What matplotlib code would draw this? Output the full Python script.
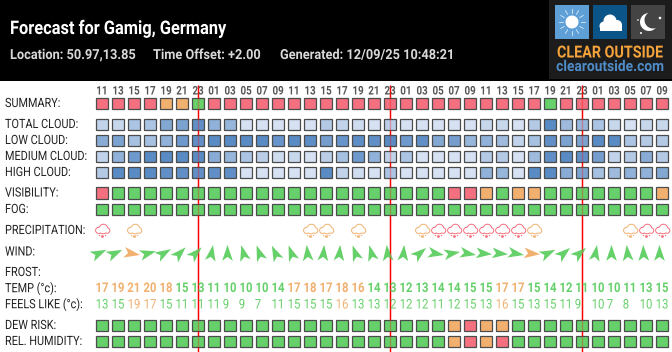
import numpy as np
import matplotlib
matplotlib.use("Agg")
import matplotlib.pyplot as plt
from matplotlib.patches import Rectangle, Polygon
from matplotlib.path import Path
from matplotlib.markers import MarkerStyle
from matplotlib.transforms import Affine2D
from matplotlib.patheffects import AbstractPathEffect

hours = ["11","13","15","17","19","21","23","01","03","05","07","09",
         "11","13","15","17","19","21","23","01","03","05","07","09",
         "11","13","15","17","19","21","23","01","03","05","07","09"]

# 0 good (green), 1 fair (orange), 2 poor (red)
summary = [2,2,2,2,1,1,0,2,2, 2,2,2,2,2,2,2,2,2,2, 2,2,2,2,2,2,2,2,2,0,2,2, 2,2,2,2,2]
visibility = [2,0,0,0,0,0,0,0,0, 0,0,0,0,0,0,0,0,0,0, 0,0,0,2,2,1,0,1,1,0,0,0, 0,0,0,0,1]
fog = [0]*36
dew_risk = [0]*22 + [1,2,1,1] + [0]*10
humidity = [0]*22 + [1,2,1,2] + [0]*10

total_cloud = [20,15,35,35,65,70,90,55,50, 5,5,5,5,5,30,20,10,5,25, 5,5,5,5,5,15,15,5,30,95,45,50, 35,15,5,15,15]
low_cloud = [60,70,40,40,55,80,90,95,95, 95,95,85,95,92,75,85,92,90,95, 80,90,65,75,50,55,45,20,40,90,70,70, 95,95,35,30,30]
medium_cloud = [20,55,80,95,95,95,95,60,50, 35,25,10,15,5,25,40,80,55,20, 35,5,5,5,5,30,30,5,45,90,95,90, 75,20,30,60,30]
high_cloud = [30,95,95,95,90,90,90,90,90, 5,5,5,5,5,95,20,10,5,35, 5,5,5,5,5,55,50,5,95,95,60,70, 40,45,55,55,65]

precip_poor = [0,21,22,23,24,25,26,34,35]
precip_fair = [2,13,14,16,20,27,33]

wind_heading = [65,65,100,75,60,45,45,10,0,-15,-20,-25,
                -20,-5,5,5,-20,-15,-5,5,50,100,80,100,
                95,95,100,95,65,50,50,10,0,-5,-2,0]
wind_fair = [2,27]

temp = [17,19,21,20,18,15,13,11,10, 10,10,14,17,18,17,18,16,14,13,
        12,13,14,14,15,15,17,17,15,14,12,11, 10,10,11,13,15]
feels = [13,15,19,17,15,11,11,11,9, 9,7,11,15,15,15,16,13,13,12,
         12,12,11,12,15,13,16,15,13,15,11,9, 10,7,8,10,13]

labels = {"SUMMARY:":103.5,"TOTAL CLOUD:":124.5,"LOW CLOUD:":140.5,"MEDIUM CLOUD:":156.5,
          "HIGH CLOUD:":172.5,"VISIBILITY:":193,"FOG:":209.5,"PRECIPITATION:":230.5,
          "WIND:":252,"FROST:":272.5,"TEMP (°c):":288.5,"FEELS LIKE (°c):":304.5,
          "DEW RISK:":325.5,"REL. HUMIDITY:":341.5}

GREEN, ORANGE, RED = "#66d06a", "#f2b06f", "#f4707f"
STATE = [GREEN, ORANGE, RED]
EDGE = "#4c4c4c"
LIGHT = np.array([0xdc,0xe6,0xf4])/255
DARK = np.array([0x52,0x86,0xc2])/255
FONT = ["Roboto", "DejaVu Sans"]


class Condense(AbstractPathEffect):
    """Draw a text narrower, since no condensed family is installed."""
    def __init__(self, sx, center=False):
        super().__init__()
        self.sx, self.center = sx, center
    def draw_path(self, renderer, gc, tpath, affine, rgbFace=None):
        ext = tpath.get_extents()
        cx = (ext.x0+ext.x1)/2 if self.center else 0
        local = Affine2D().translate(-cx,0).scale(self.sx,1).translate(cx,0)
        renderer.draw_path(gc, tpath, local+affine, rgbFace)


fig = plt.figure(figsize=(6.72,3.52), dpi=100, facecolor="white")
# x axis is the forecast column index; y axis is figure pixels from the top
ax = fig.add_axes([0,0,1,1])
DX = 16
ax.set_xlim(-102/DX, (672-102)/DX)
ax.set_ylim(352,0)
ax.axis("off")
xscale = 1/DX
n = len(hours)
xs = np.arange(n)

def px(v):
    return (v-102)*xscale

def txt(x,y,s,sx,center=False,**kw):
    return ax.text(x,y,s,family=FONT,va="center",ha="center" if center else "left",zorder=6,
                   path_effects=[Condense(sx,center)],**kw)

# header band
ax.add_patch(Rectangle((ax.get_xlim()[0],0),672*xscale,81,fc="black",ec="none",zorder=1))
txt(px(10),29,"Forecast for Gamig, Germany",0.875,color="white",fontsize=13.5,fontweight="bold")
for tx,s in [(10,"Location: 50.97,13.85"),(153,"Time Offset: +2.00"),(280,"Generated: 12/09/25 10:48:21")]:
    txt(px(tx),55,s,0.92,color="#d8d8d8",fontsize=10,fontweight="bold")

# logo
ax.add_patch(Rectangle((px(549),0),123*xscale,79,fc="#1c1c1c",ec="none",zorder=2))
for bx,c in [(555,"#5f9fd8"),(593,"#0a5488"),(631,"#444444")]:
    ax.add_patch(Rectangle((px(bx),5),34*xscale,34,fc=c,ec="none",zorder=3))
def blob(cx,cy,r,c,z=4):
    t=np.linspace(0,2*np.pi,40)
    ax.add_patch(Polygon(np.c_[px(cx+r*np.cos(t)),cy+r*np.sin(t)],fc=c,ec="none",zorder=z))
blob(572,22,6.5,"white")
for a in np.arange(0,360,30):
    ca,sa=np.cos(np.radians(a)),np.sin(np.radians(a))
    ax.plot([px(572+9*ca),px(572+13*ca)],[22+9*sa,22+13*sa],color="white",lw=0.6,alpha=0.8,zorder=4)
for cx,cy,r in [(604,26,4.5),(610,21,6.5),(617,25,5)]:
    blob(cx,cy,r,"white")
ax.add_patch(Rectangle((px(600),25),22*xscale,5.5,fc="white",ec="none",zorder=4))
blob(649,22,9,"white")
blob(653,20,8.5,"#444444",5)
for cx,cy,r in [(660,18,1.3),(641,33,1),(638,20,0.8)]:
    blob(cx,cy,r,"white",6)
txt(px(610),53,"CLEAR OUTSIDE",0.86,center=True,color="#f5a33b",fontsize=12,fontweight="bold")
txt(px(610),67,"clearoutside.com",0.92,center=True,color="#4f8bc6",fontsize=10.8,fontweight="bold")

# day separators: full red behind the squares, faint tint over them
days = [i for i,h in enumerate(hours) if h=="23"]
for k in days:
    ax.plot([k,k],[85,352],color="#ff0000",lw=1.0,zorder=2,solid_capstyle="butt")
    ax.plot([k,k],[85,352],color="#ff0000",lw=1.0,alpha=0.3,zorder=5,solid_capstyle="butt")

# hour labels
for k,h in zip(xs,hours):
    txt(k,91,h,0.82,center=True,color="#555555",fontsize=8.6,fontweight="bold")

# row labels
for s,y in labels.items():
    txt(px(5),y,s,0.85,color="#222222",fontsize=9.2)

def squares(y,colors):
    for k,c in zip(xs,colors):
        ax.add_patch(Rectangle((k-5.9*xscale,y-5.9),11.8*xscale,11.8,fc=c,ec=EDGE,lw=0.9,zorder=3))

def cloud_color(v):
    return tuple(LIGHT+(DARK-LIGHT)*v/100)

squares(103.5,[STATE[v] for v in summary])
for y,row in [(124.5,total_cloud),(140.5,low_cloud),(156.5,medium_cloud),(172.5,high_cloud)]:
    squares(y,[cloud_color(v) for v in row])
squares(193,[STATE[v] for v in visibility])
squares(209.5,[STATE[v] for v in fog])
squares(325.5,[STATE[v] for v in dew_risk])
squares(341.5,[STATE[v] for v in humidity])

# precipitation icon: cloud outline as a custom marker
def cloud_path():
    circles=[(-3.8,0.9,3.0),(0.9,-1.0,4.2),(4.4,1.0,2.8),(0.4,0.2,4.0)]
    ang=np.radians(np.arange(0,360,6))
    pts=[]
    for a in ang:
        d=np.array([np.cos(a),np.sin(a)])
        best=0
        for cx,cy,r in circles:
            b=cx*d[0]+cy*d[1]
            c=cx*cx+cy*cy-r*r
            disc=b*b-c
            if disc>=0:
                best=max(best,b+np.sqrt(disc))
        pts.append(d*best)
    pts=np.array(pts)
    pts[:,1]*=-1
    return Path(np.vstack([pts,pts[:1]]),closed=True)
CLOUD=cloud_path()
for idx,c in [(precip_poor,RED),(precip_fair,ORANGE)]:
    idx=np.array(idx)
    ax.plot(idx,np.full(idx.size,228.5),ls="none",marker=CLOUD,ms=10.5,mfc="none",mec=c,mew=0.7,zorder=4)
    ax.plot(idx,np.full(idx.size,235.5),ls="none",marker="o",ms=2.0,mfc=c,mec="none",zorder=4)
    ax.plot(idx-2.8*xscale,np.full(idx.size,234.5),ls="none",marker="o",ms=1.0,mfc=c,mec="none",zorder=4)
    ax.plot(idx+2.8*xscale,np.full(idx.size,234.5),ls="none",marker="o",ms=1.0,mfc=c,mec="none",zorder=4)

# wind darts
DART=Path([(0,1),(0.62,-0.85),(0,-0.4),(-0.62,-0.85),(0,1)],closed=True)
for k,h in zip(xs,wind_heading):
    c=ORANGE if k in wind_fair else GREEN
    m=MarkerStyle(DART,transform=Affine2D().rotate_deg(-h))
    ax.plot(k-3.5*xscale,253,marker=m,ms=12.4,mfc=c,mec="none",ls="none",zorder=4)

# temperature rows
for k,t,f in zip(xs,temp,feels):
    txt(k,288.5,str(t),0.85,center=True,color=ORANGE if t>=16 else GREEN,fontsize=9.6,fontweight="bold")
    fx=k if f>=10 else k-4*xscale
    txt(fx,305,str(f),0.85,center=True,color=ORANGE if f>=16 else GREEN,fontsize=9.6)

fig.savefig("out.png",dpi=100)
